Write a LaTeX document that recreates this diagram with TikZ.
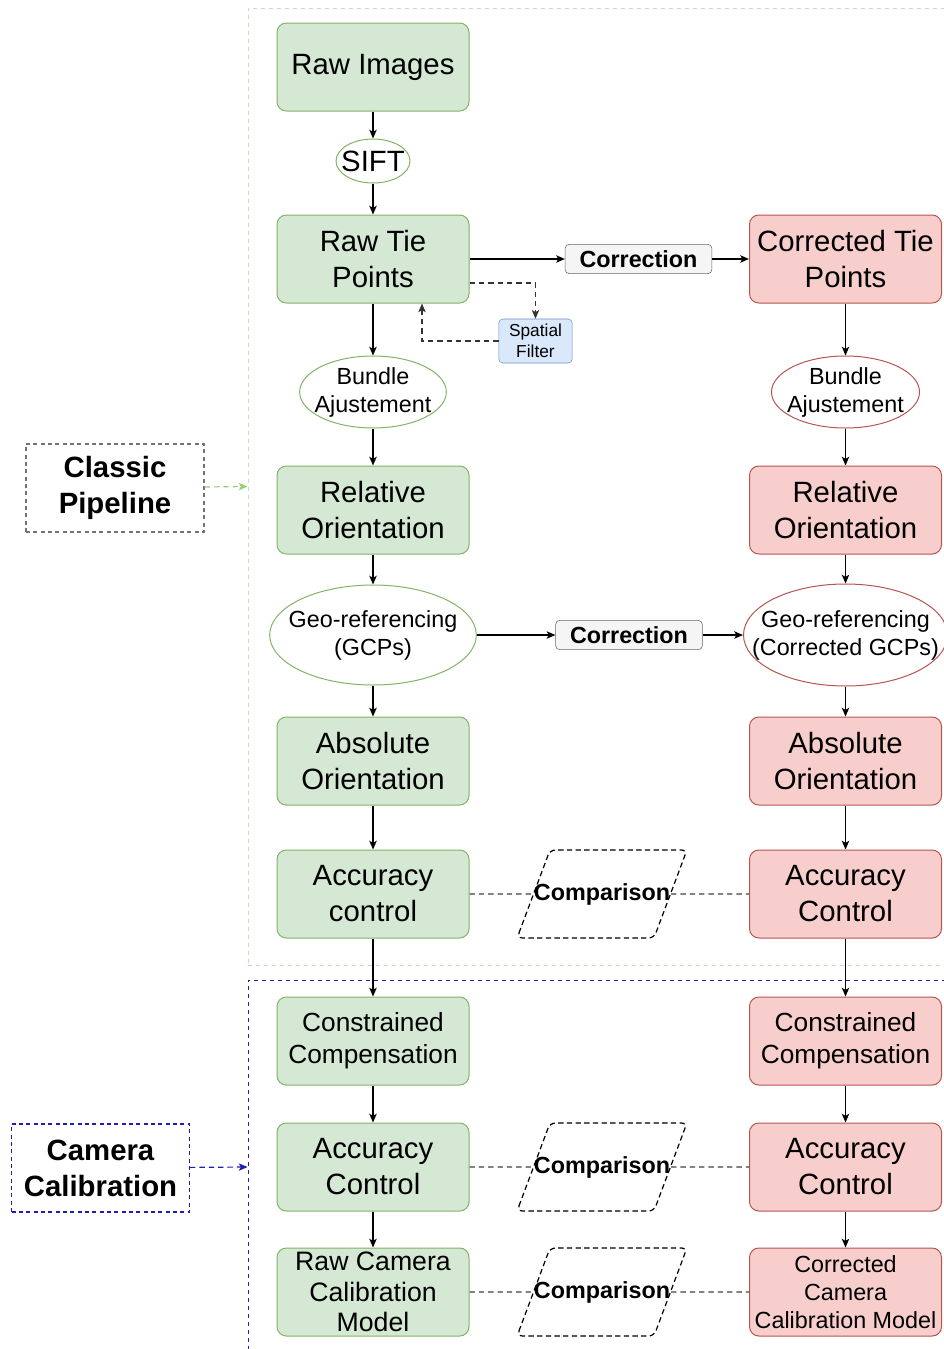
\documentclass[tikz,border=0pt]{standalone}
\usepackage{fontspec}
\setmainfont{Liberation Sans}
\usetikzlibrary{arrows.meta,shapes.geometric,calc}
\definecolor{rawfill}{HTML}{D5E8D4}
\definecolor{rawline}{HTML}{82B366}
\definecolor{corfill}{HTML}{F8CECC}
\definecolor{corline}{HTML}{B85450}
\definecolor{filtfill}{HTML}{DAE8FC}
\definecolor{filtline}{HTML}{6C8EBF}
\definecolor{fixfill}{HTML}{F5F5F5}
\definecolor{fixline}{HTML}{666666}
\definecolor{classic}{RGB}{150,205,120}
\definecolor{calib}{RGB}{30,30,180}

\begin{document}
\begin{tikzpicture}[
  x=0.75pt, y=-0.75pt,
  >={Stealth[length=6.5pt,width=5.5pt,inset=1.5pt]},
  bigtxt/.style={font=\fontsize{22}{27}\selectfont},
  midtxt/.style={font=\fontsize{19.7}{24}\selectfont},
  smalltxt/.style={font=\fontsize{17.5}{21}\selectfont},
  box/.style={draw, rounded corners=7pt, align=center, inner sep=0pt,
    minimum width=144pt, minimum height=66pt, line width=.75pt, bigtxt},
  raw/.style={box, fill=rawfill, draw=rawline},
  cor/.style={box, fill=corfill, draw=corline},
  oval/.style={draw, ellipse, fill=white, inner sep=0pt, line width=.75pt},
  ovaltxt/.style={align=center, smalltxt},
  fix/.style={draw=fixline, fill=fixfill, rounded corners=3pt, inner sep=0pt,
    minimum width=110pt, minimum height=22pt,
    font=\bfseries\fontsize{17.5}{21}\selectfont},
  filter/.style={draw=filtline, fill=filtfill, rounded corners=3pt, align=center,
    inner sep=0pt, minimum width=55pt, minimum height=33pt,
    font=\fontsize{13}{15.75}\selectfont},
  cmp/.style={draw, dash pattern=on 4pt off 2.5pt, trapezium, trapezium stretches=true,
    trapezium left angle=69, trapezium right angle=111, rounded corners=4pt,
    minimum width=127.5pt, minimum height=66pt, inner sep=0pt, line width=.9pt,
    label={[font=\bfseries\fontsize{17.5}{21}\selectfont]center:Comparison}},
  dashy/.style={dash pattern=on 4pt off 3pt},
  line/.style={->, line width=1.1pt},
  link/.style={dashy, line width=.9pt, draw=black!75},
  frame/.style={draw, dash pattern=on 3pt off 3pt, line width=.75pt},
  tag/.style={dash pattern=on 3pt off 2.5pt, line width=.9pt, align=center,
    inner sep=0pt, minimum width=133.5pt, minimum height=66pt,
    font=\bfseries\fontsize{22}{27}\selectfont}
]
\useasboundingbox (0,0) rectangle (944,1349);
\node[frame, draw=rawline!45, minimum width=523.5pt, minimum height=717.75pt]
  (classicframe) at (597,486.5) {};
\node[frame, draw=calib, minimum width=523.5pt, minimum height=280.5pt]
  (calibframe) at (597,1167) {};

\node[tag, draw=black!55] (classic) at (115,488) {Classic\\Pipeline};
\node[tag, draw=calib] (camera) at (100.5,1168) {Camera\\Calibration};

\node[raw] (rawimg) at (373,67) {Raw Images};
\node[oval, draw=rawline, minimum width=55.5pt, minimum height=33pt,
  label={[bigtxt]center:SIFT}] (sift) at (373,161) {};
\node[raw] (rawtie) at (373,259) {Raw Tie\\Points};
\node[oval, draw=rawline, minimum width=110pt, minimum height=54pt,
  label={[ovaltxt]center:Bundle\\Ajustement}] (bundle) at (373,392) {};
\node[raw] (relor) at (373,510) {Relative\\Orientation};
\node[oval, draw=rawline, minimum width=155pt, minimum height=75pt,
  label={[ovaltxt]center:Geo-referencing\\(GCPs)}] (geo) at (373,635) {};
\node[raw] (absor) at (373,761) {Absolute\\Orientation};
\node[raw] (acc) at (373,894) {Accuracy\\control};
\node[raw, midtxt] (cons) at (373,1041) {Constrained\\Compensation};
\node[raw] (acccal) at (373,1167) {Accuracy\\Control};
\node[raw, font=\fontsize{20}{23}\selectfont] (rawcam) at (373,1292)
  {Raw Camera\\Calibration\\Model};

\node[cor] (cortie) at (845.5,259) {Corrected Tie\\Points};
\node[oval, draw=corline, minimum width=111pt, minimum height=54pt,
  label={[ovaltxt]center:Bundle\\Ajustement}] (bundle2) at (845.5,392) {};
\node[cor] (relor2) at (845.5,510) {Relative\\Orientation};
\node[oval, draw=corline, minimum width=153pt, minimum height=76.5pt,
  label={[ovaltxt]center:Geo-referencing\\(Corrected GCPs)}] (geo2) at (845.5,635) {};
\node[cor] (absor2) at (845.5,761) {Absolute\\Orientation};
\node[cor] (acc2) at (845.5,894) {Accuracy\\Control};
\node[cor, midtxt] (cons2) at (845.5,1041) {Constrained\\Compensation};
\node[cor] (acccal2) at (845.5,1167) {Accuracy\\Control};
\node[cor, smalltxt] (corcam) at (845.5,1292)
  {Corrected\\Camera\\Calibration Model};

\node[fix] (fixtie) at (638.5,259) {Correction};
\node[fix] (fixgcp) at (629,635) {Correction};
\node[filter] (spatial) at (535.5,341) {Spatial\\Filter};

\node[cmp] (cmpacc) at (602,894) {\phantom{M}};
\node[cmp] (cmpcal) at (602,1167) {\phantom{M}};
\node[cmp] (cmpmod) at (602,1292) {\phantom{M}};

\draw[line] (rawimg) -- (sift);
\draw[line] (sift) -- (rawtie);
\draw[line] (rawtie) -- (bundle);
\draw[line] (bundle) -- (relor);
\draw[line] (relor) -- (geo);
\draw[line] (geo) -- (absor);
\draw[line] (absor) -- (acc);
\draw[line] (acc) -- (cons);
\draw[line] (cons) -- (acccal);
\draw[line] (acccal) -- (rawcam);

\draw[line] (cortie) -- (bundle2);
\draw[line] (bundle2) -- (relor2);
\draw[line] (relor2) -- (geo2);
\draw[line] (geo2) -- (absor2);
\draw[line] (absor2) -- (acc2);
\draw[line] (acc2) -- (cons2);
\draw[line] (cons2) -- (acccal2);
\draw[line] (acccal2) -- (corcam);

\draw[line] (rawtie) -- (fixtie);
\draw[line] (fixtie) -- (cortie);
\draw[line] (geo) -- (fixgcp);
\draw[line] (fixgcp) -- (geo2);

\draw[->, dashy, line width=.9pt, draw=black!80]
  ($(rawtie.east)+(0,24)$) -| (spatial.north);
\draw[->, dashy, line width=.9pt, draw=black!80]
  (spatial.west) -| ($(rawtie.south)+(49,0)$);

\draw[link] (acc) -- (cmpacc);
\draw[link] (cmpacc) -- (acc2);
\draw[link] (acccal) -- (cmpcal);
\draw[link] (cmpcal) -- (acccal2);
\draw[link] (rawcam) -- (cmpmod);
\draw[link] (cmpmod) -- (corcam);

\draw[->, dashy, line width=.9pt, draw=classic] (classic) -- (classicframe.west);
\draw[->, dashy, line width=.9pt, draw=calib] (camera) -- (calibframe.west);
\end{tikzpicture}
\end{document}
